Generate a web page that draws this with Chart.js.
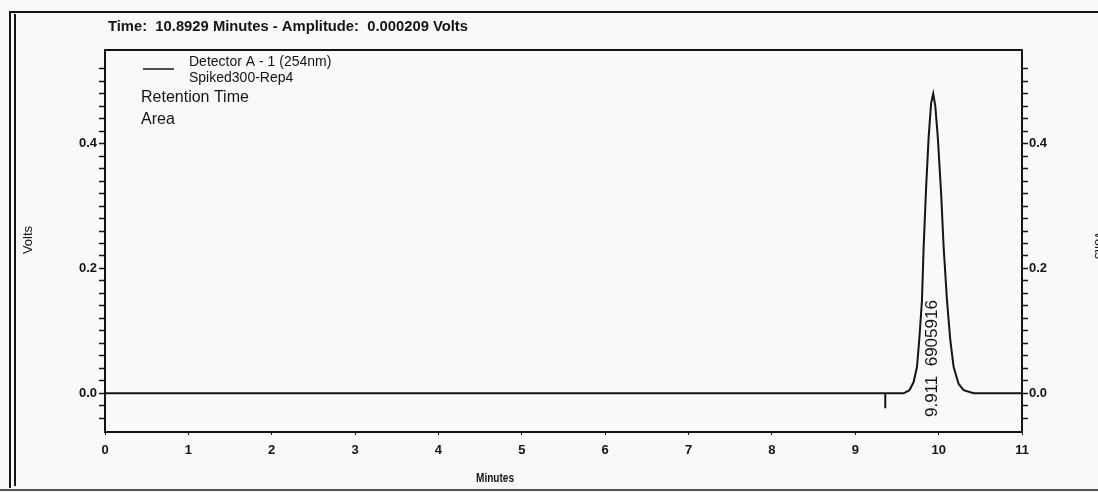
<!DOCTYPE html>
<html>
<head>
<meta charset="utf-8">
<script src="https://cdn.jsdelivr.net/npm/chart.js@4.4.1/dist/chart.umd.min.js"></script>
<style>
  html, body { margin:0; padding:0; background:#f9f9f7; }
  #wrap { width:1098px; height:492px; position:relative; }
</style>
</head>
<body>
<div id="wrap"><canvas id="c" width="1098" height="492"></canvas></div>
<script>
// chromatogram trace (minutes / volts)
const TIMES = [0, 9.58, 9.65, 9.70, 9.74, 9.77, 9.80, 9.82, 9.85, 9.88, 9.91, 9.935, 9.96, 9.99, 10.03, 10.06, 10.10, 10.14, 10.18, 10.24, 10.30, 10.42, 11];
const VOLTS = [0, 0, 0.005, 0.018, 0.042, 0.09, 0.149, 0.234, 0.33, 0.41, 0.465, 0.48, 0.46, 0.41, 0.32, 0.234, 0.149, 0.085, 0.042, 0.015, 0.005, 0, 0];

// integration event mark
const MARK_T = [9.36, 9.36];
const MARK_V = [0, -0.024];

const Y_LABELS = [0.0, 0.2, 0.4];
const PEAK_RT = 9.911;
const PEAK_AREA = 6905916;

const HEADER = 'Time:  10.8929 Minutes - Amplitude:  0.000209 Volts';
const LEGEND = ['Detector A - 1 (254nm)', 'Spiked300-Rep4'];
const LABEL_ROWS = ['Retention Time', 'Area'];

const INK = '#141414';
const tickFont = { family:"'Liberation Sans', Arial, sans-serif", size:13, weight:'bold' };

const isLabel = v => Y_LABELS.some(l => Math.abs(l - v) < 1e-6);
const keepSteps = s => { s.ticks = s.ticks.filter(t => Math.abs(Math.round(t.value / 0.02) * 0.02 - t.value) < 1e-6); };

const decor = {
  id:'decor',
  afterDraw(chart) {
    const ctx = chart.ctx, a = chart.chartArea, xs = chart.scales.x, ys = chart.scales.y;
    ctx.save();
    ctx.strokeStyle = INK; ctx.fillStyle = INK;

    // outer frame
    ctx.lineWidth = 2;
    ctx.beginPath();
    ctx.moveTo(10, 488); ctx.lineTo(10, 12); ctx.lineTo(1098, 12);
    ctx.moveTo(15, 486); ctx.lineTo(15, 14);
    ctx.stroke();
    ctx.strokeStyle = '#555';
    ctx.beginPath(); ctx.moveTo(0, 490); ctx.lineTo(1098, 490); ctx.stroke();

    // top edge of plot box
    ctx.strokeStyle = INK;
    ctx.beginPath(); ctx.moveTo(a.left, a.top); ctx.lineTo(a.right, a.top); ctx.stroke();

    // header
    ctx.textBaseline = 'middle'; ctx.textAlign = 'left';
    ctx.font = "bold 15px 'Liberation Sans', Arial, sans-serif";
    ctx.fillText(HEADER, 108, 27, 360);

    // legend
    ctx.lineWidth = 1.5;
    ctx.beginPath(); ctx.moveTo(143, 69); ctx.lineTo(174, 69); ctx.stroke();
    ctx.font = "14px 'Liberation Sans', Arial, sans-serif";
    ctx.fillText(LEGEND[0], 189, 62, 161);
    ctx.fillText(LEGEND[1], 189, 78, 118);
    ctx.font = "16px 'Liberation Sans', Arial, sans-serif";
    ctx.fillText(LABEL_ROWS[0], 141, 98, 116);
    ctx.fillText(LABEL_ROWS[1], 141, 120);

    // axis titles
    ctx.font = "bold 13px 'Liberation Sans', Arial, sans-serif";
    ctx.fillText('Minutes', 476, 478, 38);
    ctx.font = "13px 'Liberation Sans', Arial, sans-serif";
    ctx.save(); ctx.translate(28, 240); ctx.rotate(-Math.PI / 2);
    ctx.textAlign = 'center'; ctx.fillText('Volts', 0, 0); ctx.restore();
    ctx.save(); ctx.translate(1099, 245); ctx.rotate(Math.PI / 2);
    ctx.textAlign = 'center'; ctx.fillText('Volts', 0, 0); ctx.restore();

    // peak annotation
    ctx.font = "17px 'Liberation Sans', Arial, sans-serif";
    ctx.save();
    ctx.translate(xs.getPixelForValue(PEAK_RT) + 1, ys.getPixelForValue(-0.038));
    ctx.rotate(-Math.PI / 2);
    ctx.textAlign = 'left';
    ctx.fillText(PEAK_RT.toFixed(3) + '  ' + PEAK_AREA, 0, 0);
    ctx.restore();

    ctx.restore();
  }
};

new Chart(document.getElementById('c'), {
  type:'line',
  data:{
    datasets:[
      { label:LEGEND[0], data:TIMES.map((t, i) => ({ x:t, y:VOLTS[i] })),
        borderColor:INK, borderWidth:2, pointRadius:0, tension:0, fill:false },
      { label:'mark', data:MARK_T.map((t, i) => ({ x:t, y:MARK_V[i] })),
        borderColor:INK, borderWidth:2, pointRadius:0, fill:false }
    ]
  },
  options:{
    responsive:false, animation:false,
    layout:{ padding:{ top:50, left:0, right:0, bottom:0 } },
    plugins:{ legend:{ display:false }, tooltip:{ enabled:false } },
    scales:{
      x:{ type:'linear', min:0, max:11,
        ticks:{ stepSize:1, color:INK, font:tickFont, padding:8, maxRotation:0 },
        grid:{ drawOnChartArea:false, tickLength:3, color:INK },
        border:{ color:INK, width:2 },
        afterFit(s) { s.height = 60; } },
      y:{ type:'linear', position:'left', min:-0.062, max:0.55,
        afterBuildTicks:keepSteps,
        ticks:{ stepSize:0.02, autoSkip:false, color:INK, font:tickFont, padding:2,
          callback:v => isLabel(v) ? v.toFixed(1) : '' },
        grid:{ drawOnChartArea:false, tickLength:6, color:INK, tickWidth:1.5 },
        border:{ color:INK, width:2 },
        afterFit(s) { s.width = 105; } },
      y2:{ type:'linear', position:'right', min:-0.062, max:0.55,
        afterBuildTicks:keepSteps,
        ticks:{ stepSize:0.02, autoSkip:false, color:INK, font:tickFont, padding:1,
          callback:v => isLabel(v) ? v.toFixed(1) : '' },
        grid:{ drawOnChartArea:false, tickLength:6, color:INK, tickWidth:1.5 },
        border:{ color:INK, width:2 },
        afterFit(s) { s.width = 76; } }
    }
  },
  plugins:[decor]
});
</script>
</body>
</html>
